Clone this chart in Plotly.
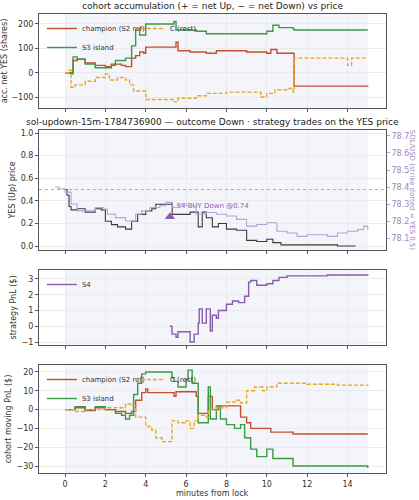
import plotly.graph_objects as go

# panel 1: cohort accumulation (net YES shares)
acc_champ_t = [0, 0.3, 0.4, 0.6, 1, 1.5, 2, 2.3, 2.8, 3, 3.3, 3.5, 3.7, 3.9, 4.0, 5.5, 5.5, 5.6, 6.2, 7, 7.5, 8, 9, 10, 10.2, 10.5, 11.3, 11.35, 15]
acc_champ_v = [0, 0, 50, 55, 40, 30, 25, 35, 30, 25, 60, 70, 85, 80, 105, 110, 125, 90, 85, 80, 90, 90, 85, 80, 95, 80, 80, -55, -58]
acc_s3_t = [0, 0.3, 0.4, 0.6, 1, 1.5, 2, 2.3, 2.5, 3, 3.3, 3.5, 3.7, 4, 5.4, 5.5, 6.5, 7, 8, 10, 10.3, 10.6, 11.3, 11.35, 15]
acc_s3_v = [0, -5, 65, 55, 35, 20, 20, 30, 50, 60, 110, 180, 155, 200, 210, 175, 170, 160, 160, 170, 195, 185, 180, 175, 175]
acc_c_t = [0, 0.2, 0.3, 0.5, 1, 1.5, 2, 2.2, 2.6, 3, 3.2, 3.4, 4, 4.01, 5, 5.4, 5.6, 6.5, 7, 8, 9, 9.7, 10, 10.4, 11, 11.3, 11.35, 13.5, 14, 14.2, 15]
acc_c_v = [0, 10, -60, -50, -35, -20, -5, -30, -20, -30, -50, -75, -95, -110, -110, -120, -105, -95, -85, -80, -80, -100, -85, -70, -65, -80, 60, 60, 30, 60, 60]

# panel 2: YES price and SOL/USD
yes_t = [0, 0.1, 0.2, 0.3, 0.6, 1, 1.5, 1.8, 2, 2.3, 2.6, 3, 3.3, 3.6, 4, 4.3, 4.5, 5.3, 5.31, 6, 6.2, 6.6, 6.8, 7, 7.3, 7.6, 8, 8.5, 9, 9.5, 10, 10.3, 10.7, 13.5, 14.4]
yes_v = [0.5, 0.45, 0.35, 0.32, 0.33, 0.30, 0.33, 0.32, 0.22, 0.19, 0.17, 0.15, 0.22, 0.28, 0.31, 0.33, 0.37, 0.38, 0.28, 0.28, 0.30, 0.17, 0.30, 0.25, 0.17, 0.20, 0.15, 0.14, 0.05, 0.04, 0.06, 0.03, 0.01, 0.0, 0.0]
sol_t = [-0.5, -0.3, 0, 0.3, 0.6, 1, 1.5, 1.9, 2.1, 2.5, 3, 3.5, 3.8, 4.2, 4.7, 5.0, 5.3, 5.6, 6, 6.5, 7, 7.5, 8, 8.5, 9, 9.5, 10, 10.5, 11, 11.5, 12, 12.5, 13, 13.5, 14, 14.5, 14.8, 15]
sol_v = [78.4, 78.39, 78.37, 78.30, 78.26, 78.26, 78.28, 78.27, 78.24, 78.22, 78.20, 78.24, 78.26, 78.28, 78.29, 78.31, 78.28, 78.30, 78.29, 78.24, 78.25, 78.24, 78.23, 78.21, 78.17, 78.18, 78.19, 78.14, 78.13, 78.11, 78.12, 78.12, 78.11, 78.13, 78.14, 78.15, 78.17, 78.15]
sol_ticks = [78.1, 78.2, 78.3, 78.4, 78.5, 78.6, 78.7]
trade_t = [5.2]
trade_p = [0.26]
trade_label = ["S4 BUY Down @0.74"]

# panel 3: strategy PnL
s4_t = [5.2, 5.3, 5.5, 5.6, 6.1, 6.2, 6.4, 6.6, 6.65, 6.8, 7, 7.2, 7.3, 7.5, 7.6, 8, 8.3, 8.6, 8.9, 9.1, 9.2, 9.5, 10, 10.3, 10.6, 11, 12, 13, 15]
s4_v = [0, -0.5, -0.7, -0.35, -0.35, -1.0, -0.5, 0.2, 1.1, 0.2, 1.1, -0.3, 0.7, 0.5, 1.0, 1.4, 1.6, 1.5, 1.9, 2.8, 2.9, 2.6, 2.7, 2.9, 3.1, 3.2, 3.2, 3.25, 3.3]

# panel 4: cohort moving PnL
pnl_champ_t = [0, 0.5, 1, 1.5, 2, 2.5, 3, 3.3, 3.5, 3.8, 4, 4.1, 5.4, 5.5, 6.5, 6.6, 7, 7.1, 7.3, 7.5, 7.6, 8.6, 8.7, 9, 9.2, 10.2, 10.5, 11.3, 15]
pnl_champ_v = [0, 1, -0.5, 1, 0, -1, -2, -1, 5, 9, 11, 9, 7, 9.5, 7, -2, -2, 7, 0, 0, 2, 2, -4, -7, -10, -12, -12, -13, -13]
pnl_s3_t = [0, 0.5, 1, 1.5, 2, 2.5, 2.8, 3, 3.2, 3.4, 3.6, 3.8, 4, 5.3, 5.4, 5.6, 6, 6.1, 6.3, 6.6, 7.1, 7.2, 7.5, 7.7, 8, 8.4, 8.7, 8.9, 9.2, 9.5, 10, 10.3, 11.3, 15]
pnl_s3_v = [0, 1.5, 0, 1.5, 0, -2, -3, -5, -3, 8, 14, 19, 20, 17, 15, 12, 16, 21, 14, -7, 12, -5, 2, -5, -8, -10, -8, -15, -21, -25, -21, -26, -30, -31]
pnl_c_t = [0, 0.5, 1, 1.5, 2, 2.5, 3, 3.3, 3.5, 4, 4.3, 4.5, 4.8, 5.2, 5.3, 5.6, 6, 6.2, 6.4, 6.6, 7, 7.1, 7.5, 8, 8.5, 8.7, 9, 9.4, 9.8, 10, 10.5, 11, 12, 13.5, 15]
pnl_c_v = [0, -1, 0, 0, 1, 1, 3, 2, -4, -9, -11, -15, -17, -17, -6, -7, -6, -10, -6, -3, -4, 0, 1, 4, 5, 3.5, 10, 12, 10, 12, 14, 14, 13.5, 13, 12.5]

RED = "#c4502b"
GREEN = "#3b9a45"
GOLD = "#e8a920"
PURPLE = "#8a5cb0"
LPURPLE = "#b7a3d6"
DASH = "4px,2px"

fig = go.Figure()

def step(x, y, color, name=None, dash=None, xa="x", ya="y", legend=None, width=1.4, show=True):
    fig.add_trace(go.Scatter(x=x, y=y, mode="lines", line=dict(color=color, width=width, dash=dash, shape="hv"),
                             name=name, xaxis=xa, yaxis=ya, legend=legend, showlegend=show))

step(acc_champ_t, acc_champ_v, RED, "champion (S2 ref)", legend="legend")
step(acc_s3_t, acc_s3_v, GREEN, "S3 island", legend="legend")
step(acc_c_t, acc_c_v, GOLD, "C (rest)", dash=DASH, legend="legend4")

step(sol_t, sol_v, LPURPLE, xa="x2", ya="y5", show=False, width=1.1)
step(yes_t, yes_v, "#3a3a3a", xa="x2", ya="y2", show=False, width=1.1)
fig.add_trace(go.Scatter(x=trade_t, y=trade_p, mode="markers+text", text=trade_label, textposition="top right",
                         textfont=dict(color=PURPLE, size=7), marker=dict(symbol="triangle-up", size=9, color=PURPLE),
                         xaxis="x2", yaxis="y2", showlegend=False))

step(s4_t, s4_v, PURPLE, "S4", xa="x3", ya="y3", legend="legend2")

step(pnl_champ_t, pnl_champ_v, RED, "champion (S2 ref)", xa="x4", ya="y4", legend="legend3")
step(pnl_s3_t, pnl_s3_v, GREEN, "S3 island", xa="x4", ya="y4", legend="legend3")
step(pnl_c_t, pnl_c_v, GOLD, "C (rest)", dash=DASH, xa="x4", ya="y4", legend="legend5")

dom = {"y": [0.784, 0.972], "y2": [0.5, 0.74], "y3": [0.31, 0.46], "y4": [0.054, 0.27]}
rng = {"y": [-145, 241], "y2": [-0.035, 1.027], "y3": [-1.19, 3.57], "y4": [-33.7, 23.7]}
ylabels = {"y": "acc. net YES (shares)", "y2": "YES (Up) price", "y3": "strategy PnL ($)", "y4": "cohort moving PnL ($)"}
tickvals = {"y": [-100, 0, 100, 200], "y2": [0, 0.2, 0.4, 0.6, 0.8, 1.0], "y3": [-1, 0, 1, 2, 3], "y4": [-30, -20, -10, 0, 10, 20]}
ticktext = {"y": ["−100", "0", "100", "200"], "y2": ["0.0", "0.2", "0.4", "0.6", "0.8", "1.0"],
            "y3": ["−1", "0", "1", "2", "3"], "y4": ["−30", "−20", "−10", "0", "10", "20"]}

axstyle = dict(showline=True, linecolor="#555", linewidth=1, mirror=True, ticks="outside", ticklen=3,
               tickcolor="#555", gridcolor="#ebebeb", zeroline=False, automargin=False,
               tickfont=dict(size=8, color="#333"))
lay = {}
for i, k in enumerate(["y", "y2", "y3", "y4"]):
    xn = "xaxis" if i == 0 else "xaxis%d" % (i + 1)
    yn = "yaxis" if i == 0 else "yaxis%d" % (i + 1)
    xk = "x" if i == 0 else "x%d" % (i + 1)
    lay[xn] = dict(axstyle, domain=[0.093, 0.921], range=[-1.29, 15.9], anchor=k, tickvals=list(range(0, 15, 2)),
                   showticklabels=(i == 3))
    lay[yn] = dict(axstyle, domain=dom[k], range=rng[k], anchor=xk, tickvals=tickvals[k], ticktext=ticktext[k],
                   title=dict(text=ylabels[k], font=dict(size=8, color="#333"), standoff=3))
lay["yaxis5"] = dict(overlaying="y2", side="right", anchor="x2", range=[78.03, 78.735], showgrid=False,
                     automargin=False, tickvals=sol_ticks, ticktext=["%.1f" % v for v in sol_ticks],
                     ticks="outside", ticklen=3, tickcolor=LPURPLE, tickfont=dict(size=8, color="#9a86bd"))

shapes = []
for i, k in enumerate(["y", "y2", "y3", "y4"]):
    xk = "x" if i == 0 else "x%d" % (i + 1)
    shapes.append(dict(type="rect", xref=xk, yref=k + " domain", x0=0, x1=15, y0=0, y1=1,
                       fillcolor="#f3f5fa", line=dict(width=0), layer="below"))
shapes.append(dict(type="line", xref="x2 domain", yref="y2", x0=0, x1=1, y0=0.5, y1=0.5,
                   line=dict(color="#aaa", width=1, dash="dot")))

def ann(text, y):
    return dict(text=text, x=0.507, y=y, xref="paper", yref="paper", showarrow=False,
                font=dict(size=9, color="#222"), xanchor="center", yanchor="bottom")

annotations = [ann("cohort accumulation (+ = net Up, − = net Down) vs price", 0.974),
               ann("sol-updown-15m-1784736900 — outcome Down · strategy trades on the YES price", 0.742),
               dict(text="minutes from lock", x=0.507, y=0.0, xref="paper", yref="paper", showarrow=False,
                    font=dict(size=8, color="#333"), xanchor="center", yanchor="bottom"),
               dict(text="SOL/USD (strike dotted = YES 0.5)", x=0.998, y=0.62, xref="paper", yref="paper",
                    showarrow=False, textangle=90, font=dict(size=7, color="#9a86bd"),
                    xanchor="right", yanchor="middle")]

leg = dict(font=dict(size=7, color="#333"), bgcolor="rgba(255,255,255,0)", borderwidth=0,
           xanchor="left", yanchor="top", tracegroupgap=0, itemwidth=30)

fig.update_layout(width=419, height=500, margin=dict(l=0, r=0, t=0, b=0), plot_bgcolor="white", paper_bgcolor="white",
                  font=dict(family="DejaVu Sans"), shapes=shapes, annotations=annotations,
                  legend=dict(leg, x=0.1, y=0.972),
                  legend4=dict(leg, x=0.31, y=0.972),
                  legend2=dict(leg, x=0.1, y=0.46),
                  legend3=dict(leg, x=0.1, y=0.27),
                  legend5=dict(leg, x=0.31, y=0.27),
                  **lay)
fig.write_html("out.html", config={"displayModeBar": False},
               post_script="document.body.style.margin='0';document.body.style.overflow='hidden';")
